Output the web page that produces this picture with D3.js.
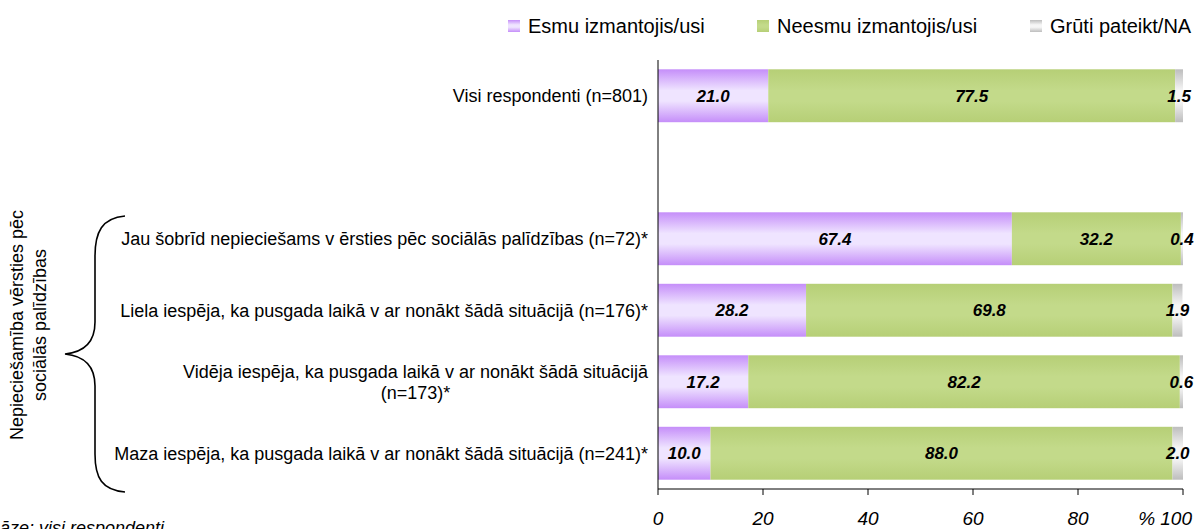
<!DOCTYPE html>
<html>
<head>
<meta charset="utf-8">
<script src="https://cdn.jsdelivr.net/npm/d3@7"></script>
<style>
  body { margin: 0; background: #fff; }
  svg { display: block; font-family: "Liberation Sans", Arial, sans-serif; }
</style>
</head>
<body>
<div id="chart"></div>
<script>
// category labels, "" is the empty gap slot; "\n" marks a forced line break
var categories = [
    "Visi respondenti (n=801)",
    "",
    "Jau šobrīd nepieciešams v ērsties pēc sociālās palīdzības (n=72)*",
    "Liela iespēja, ka pusgada laikā v ar nonākt šādā situācijā (n=176)*",
    "Vidēja iespēja, ka pusgada laikā v ar nonākt šādā situācijā\n(n=173)*",
    "Maza iespēja, ka pusgada laikā v ar nonākt šādā situācijā (n=241)*"
];
var seriesNames = ["Esmu izmantojis/usi", "Neesmu izmantojis/usi", "Grūti pateikt/NA"];
var usedValues   = [21.0, null, 67.4, 28.2, 17.2, 10.0];
var notUsedValues = [77.5, null, 32.2, 69.8, 82.2, 88.0];
var naValues     = [1.5, null, 0.4, 1.9, 0.6, 2.0];
var tickValues = [0, 20, 40, 60, 80, 100];
var groupTitle = ["Nepieciešamība vērsties pēc", "sociālās palīdzības"];
var footnote = "Bāze: visi respondenti";

var width = 1200, height = 529;

var svg = d3.select("#chart").append("svg")
    .attr("width", width)
    .attr("height", height);

// gradients, roughly like the office style fills
var defs = svg.append("defs");
function addGradient(id, edge, mid) {
    var g = defs.append("linearGradient")
        .attr("id", id)
        .attr("x1", 0).attr("y1", 0).attr("x2", 0).attr("y2", 1);
    g.append("stop").attr("offset", "0%").attr("stop-color", edge);
    g.append("stop").attr("offset", "40%").attr("stop-color", mid);
    g.append("stop").attr("offset", "60%").attr("stop-color", mid);
    g.append("stop").attr("offset", "100%").attr("stop-color", edge);
}
addGradient("g-purple", "#c58ef9", "#efe4ff");
addGradient("g-green", "#b6cf76", "#c3da8a");
addGradient("g-gray", "#bdbdbd", "#f6f6f6");
var fills = ["url(#g-purple)", "url(#g-green)", "url(#g-gray)"];

var x = d3.scaleLinear().domain([0, 100]).range([658, 1183]);
var y = d3.scaleBand()
    .domain(d3.range(categories.length))
    .range([60, 489])
    .paddingInner(0.26)
    .paddingOuter(0.13);

// stack the three series
var rows = categories.map(function(c, i) {
    return { i: i, used: usedValues[i], notUsed: notUsedValues[i], na: naValues[i] };
}).filter(function(d) { return d.used !== null; });

var stack = d3.stack().keys(["used", "notUsed", "na"]);
var stacked = stack(rows);

var layers = svg.selectAll(".layer")
    .data(stacked)
    .enter()
    .append("g")
    .attr("class", "layer")
    .attr("fill", function(d, k) { return fills[k]; });

layers.selectAll("rect")
    .data(function(d) { return d; })
    .enter()
    .append("rect")
    .attr("x", function(d) { return x(d[0]); })
    .attr("y", function(d) { return y(d.data.i); })
    .attr("width", function(d) { return x(d[1]) - x(d[0]); })
    .attr("height", y.bandwidth());

// value labels
layers.selectAll("text")
    .data(function(d) { return d; })
    .enter()
    .append("text")
    .attr("x", function(d) { return (x(d[0]) + x(d[1])) / 2; })
    .attr("y", function(d) { return y(d.data.i) + y.bandwidth() / 2; })
    .attr("dy", "0.35em")
    .attr("text-anchor", "middle")
    .attr("fill", "#000")
    .style("font-size", "17px")
    .style("font-weight", "bold")
    .style("font-style", "italic")
    .text(function(d) { return (d[1] - d[0]).toFixed(1); });

// axes
var xAxis = svg.append("g").attr("transform", "translate(0,489)");
xAxis.append("line")
    .attr("x1", x(0)).attr("x2", x(100))
    .attr("stroke", "#000");
xAxis.selectAll(".tick")
    .data(tickValues)
    .enter()
    .append("line")
    .attr("x1", d => x(d)).attr("x2", d => x(d))
    .attr("y1", 0).attr("y2", 6)
    .attr("stroke", "#000");
xAxis.selectAll(".tl")
    .data(tickValues)
    .enter()
    .append("text")
    .attr("x", d => d === 100 ? 1192 : x(d))
    .attr("y", 36)
    .attr("text-anchor", d => d === 100 ? "end" : "middle")
    .style("font-size", "19px")
    .style("font-style", "italic")
    .text(d => d === 100 ? "% 100" : d);

svg.append("line")
    .attr("x1", x(0)).attr("x2", x(0))
    .attr("y1", 60).attr("y2", 489)
    .attr("stroke", "#000");

// category labels, multi-line ones centred on their widest line
categories.forEach(function(c, i) {
    if (!c) return;
    var lines = c.split("\n");
    var cy = y(i) + y.bandwidth() / 2;
    var lineH = 21;
    var t = svg.append("text")
        .style("font-size", "18px")
        .attr("fill", "#000");
    var spans = lines.map(function(l, k) {
        return t.append("tspan")
            .attr("y", cy + (k - (lines.length - 1) / 2) * lineH)
            .attr("dy", "0.35em")
            .text(l);
    });
    var widths = spans.map(s => s.node().getComputedTextLength());
    var maxW = d3.max(widths);
    var centre = 648 - maxW / 2;
    spans.forEach(function(s) {
        s.attr("x", centre).attr("text-anchor", "middle");
    });
});

// brace
var brace = d3.path();
brace.moveTo(125, 216);
brace.bezierCurveTo(102, 218, 95, 232, 95, 256);
brace.lineTo(95, 322);
brace.bezierCurveTo(95, 342, 85, 352, 65, 354);
brace.bezierCurveTo(85, 356, 95, 366, 95, 386);
brace.lineTo(95, 454);
brace.bezierCurveTo(95, 478, 102, 490, 125, 492);
svg.append("path")
    .attr("d", brace.toString())
    .attr("fill", "none")
    .attr("stroke", "#000")
    .attr("stroke-width", 1.6);

// rotated group title
svg.append("g")
    .attr("transform", "translate(0,325) rotate(-90)")
    .selectAll("text")
    .data(groupTitle)
    .enter()
    .append("text")
    .attr("x", 0)
    .attr("y", (d, i) => 23 + i * 23)
    .attr("text-anchor", "middle")
    .style("font-size", "18px")
    .text(d => d);

// legend
var legendX = [508, 757, 1030];
var legend = svg.selectAll(".legend")
    .data(seriesNames)
    .enter()
    .append("g")
    .attr("class", "legend")
    .attr("transform", (d, i) => "translate(" + legendX[i] + ",20)");
legend.append("rect")
    .attr("width", 12).attr("height", 12)
    .attr("fill", (d, i) => fills[i]);
legend.append("text")
    .attr("x", 20)
    .attr("y", 13)
    .style("font-size", "20px")
    .text(d => d);

// footnote, mostly clipped by the bottom edge like in the source
svg.append("text")
    .attr("x", -12)
    .attr("y", 534)
    .style("font-size", "18px")
    .style("font-style", "italic")
    .text(footnote);
</script>
</body>
</html>
